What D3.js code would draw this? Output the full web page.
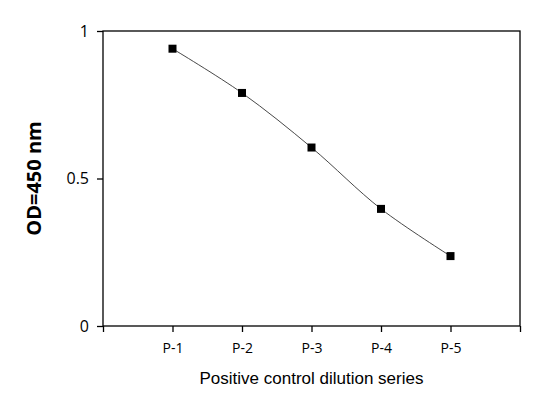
<!DOCTYPE html>
<html>
<head>
<meta charset="utf-8">
<script src="https://cdn.jsdelivr.net/npm/d3@7"></script>
<style>
  body { margin: 0; background: #fff; }
  svg { display: block; }
  .tick text { font-family: 'Open Sans', sans-serif; font-size: 14px; fill: #000; }
</style>
</head>
<body>
<svg id="chart" width="546" height="393"></svg>
<script>
const categories = ['P-1', 'P-2', 'P-3', 'P-4', 'P-5'];
const odValues = [0.94, 0.79, 0.605, 0.397, 0.237];
const yTicks = [0, 0.5, 1];

const svg = d3.select('#chart');
const margin = { top: 31, right: 26, bottom: 67, left: 103 };
const width = 546 - margin.left - margin.right;
const height = 393 - margin.top - margin.bottom;

const g = svg.append('g').attr('transform', `translate(${margin.left},${margin.top})`);

// categories sit between two empty slots at the edges
const x = d3.scaleLinear().domain([0, categories.length + 1]).range([0, width]);
const y = d3.scaleLinear().domain([0, 1]).range([height, 0]);

// frame
g.append('rect')
  .attr('width', width)
  .attr('height', height)
  .attr('fill', 'none')
  .attr('stroke', '#000')
  .attr('stroke-width', 1.3);

const xAxis = g.append('g')
  .attr('transform', `translate(0,${height})`)
  .call(
    d3.axisBottom(x)
      .tickValues(d3.range(0, categories.length + 2))
      .tickSize(6)
      .tickPadding(11)
      .tickFormat((d) => categories[d - 1] || ''),
  );
xAxis.select('.domain').remove();
xAxis.selectAll('.tick line').attr('stroke', '#000').attr('stroke-width', 1.3);

const yAxis = g.append('g')
  .call(d3.axisLeft(y).tickValues(yTicks).tickSize(6).tickPadding(8).tickFormat(d3.format('')));
yAxis.select('.domain').remove();
yAxis.selectAll('.tick line').attr('stroke', '#000').attr('stroke-width', 1.3);
yAxis.selectAll('.tick text').style('font-size', '16px');

const points = odValues.map((v, i) => ({ x: x(i + 1), y: y(v) }));

g.append('path')
  .datum(points)
  .attr('fill', 'none')
  .attr('stroke', '#333')
  .attr('stroke-width', 0.9)
  .attr('d', d3.line().x((d) => d.x).y((d) => d.y).curve(d3.curveCatmullRom.alpha(0.5)));

g.selectAll('rect.marker')
  .data(points)
  .enter()
  .append('rect')
  .attr('class', 'marker')
  .attr('x', (d) => d.x - 4)
  .attr('y', (d) => d.y - 4)
  .attr('width', 8)
  .attr('height', 8)
  .attr('fill', '#000');

svg.append('text')
  .attr('x', margin.left + width / 2)
  .attr('y', 384)
  .attr('text-anchor', 'middle')
  .style('font-family', "'Liberation Sans', Arial, sans-serif")
  .style('font-size', '17px')
  .text('Positive control dilution series');

svg.append('text')
  .attr('transform', `translate(41,${margin.top + height / 2 + 0}) rotate(-90)`)
  .attr('text-anchor', 'middle')
  .style('font-family', "'Open Sans', sans-serif")
  .style('font-weight', 'bold')
  .style('font-size', '20px')
  .text('OD=450 nm');
</script>
</body>
</html>
